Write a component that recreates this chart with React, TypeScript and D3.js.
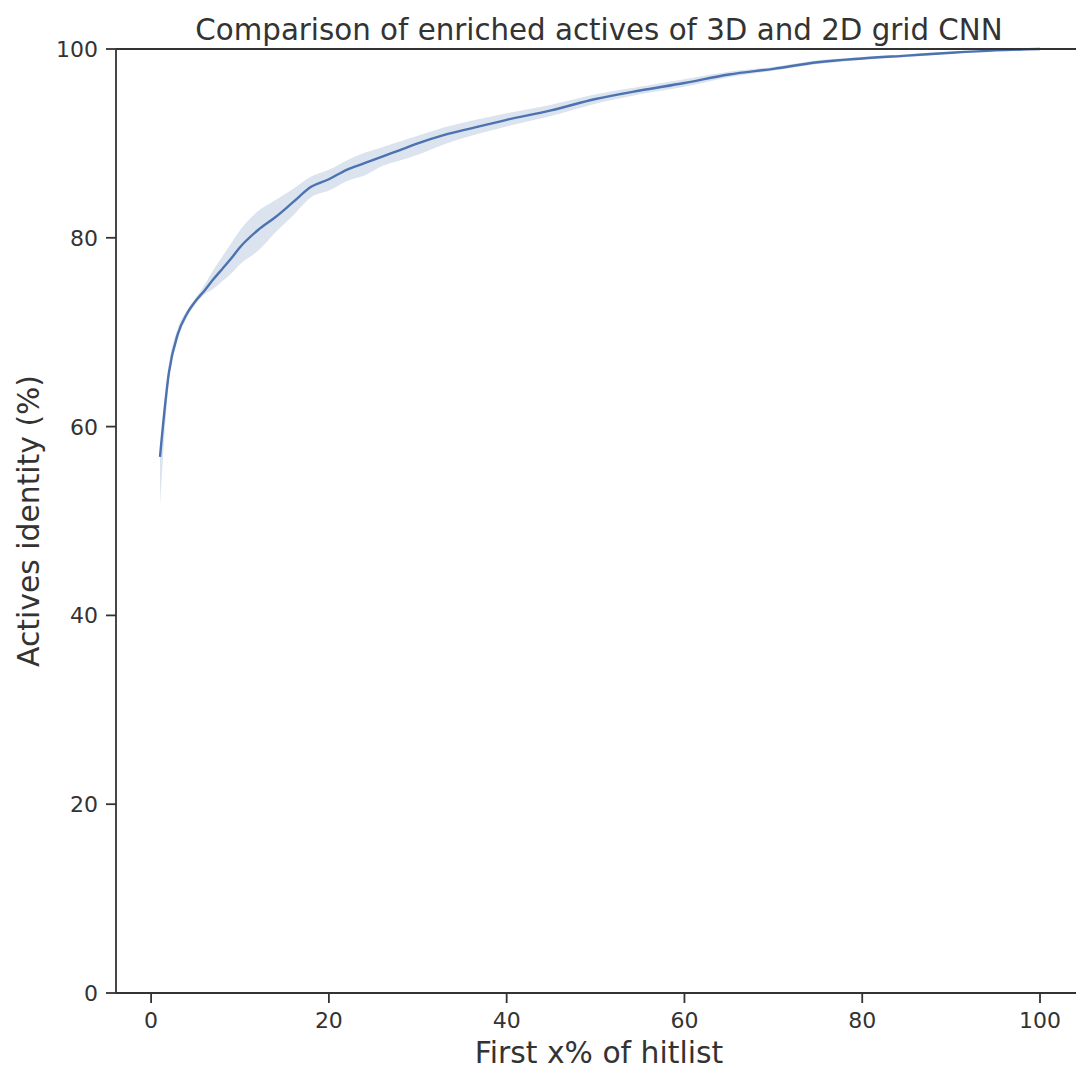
import React from "react";
import * as d3 from "d3";

const xs = [1, 2, 3, 4, 5, 6, 7, 8, 9, 10, 12, 14, 16, 18, 20, 22, 24, 26, 28, 30, 33, 36, 40, 45, 50, 55, 60, 65, 70, 75, 80, 85, 90, 95, 100];
const meanVals = [56.8, 65.7, 69.8, 71.9, 73.3, 74.4, 75.6, 76.7, 77.8, 79.0, 80.8, 82.2, 83.8, 85.4, 86.2, 87.2, 87.9, 88.6, 89.3, 90.0, 90.9, 91.6, 92.5, 93.5, 94.7, 95.6, 96.4, 97.3, 97.9, 98.6, 99.0, 99.3, 99.6, 99.85, 100];
const lowerVals = [51.6, 64.7, 69.2, 71.5, 73.0, 74.0, 74.6, 75.4, 76.2, 77.2, 78.6, 80.6, 82.4, 84.3, 85.0, 86.0, 86.6, 87.6, 88.2, 88.8, 89.9, 90.8, 91.8, 92.9, 94.2, 95.2, 96.0, 97.0, 97.7, 98.4, 98.85, 99.15, 99.5, 99.8, 100];
const upperVals = [57.4, 66.6, 70.4, 72.3, 73.6, 75.0, 76.6, 78.0, 79.4, 80.8, 82.8, 84.0, 85.2, 86.5, 87.2, 88.2, 89.0, 89.6, 90.2, 90.8, 91.7, 92.4, 93.2, 94.1, 95.2, 96.0, 96.8, 97.6, 98.1, 98.8, 99.15, 99.45, 99.7, 99.9, 100];
const xTicks = [0, 20, 40, 60, 80, 100];
const yTicks = [0, 20, 40, 60, 80, 100];

const W = 1076, H = 1069;
const left = 116, right = 1084, top = 49, bottom = 993;
const ink = "#333333";
const blue = "#4c72b0";
const font = "DejaVu Sans, sans-serif";

export default function App() {
  const x = d3.scaleLinear().domain([-3.95, 104.95]).range([left, right]);
  const y = d3.scaleLinear().domain([0, 100]).range([bottom, top]);
  const pts = xs.map((v, i) => ({ x: v, m: meanVals[i], lo: lowerVals[i], hi: upperVals[i] }));
  const line = d3.line<any>().x(d => x(d.x)).y(d => y(d.m)).curve(d3.curveMonotoneX);
  const area = d3.area<any>().x(d => x(d.x)).y0(d => y(d.lo)).y1(d => y(d.hi)).curve(d3.curveMonotoneX);
  return (
    <div style={{ position: "absolute", left: 0, top: 0 }}>
      <svg width={W} height={H} style={{ display: "block", background: "#fff" }}>
        <path d={area(pts) || ""} fill={blue} fillOpacity={0.2} stroke="none" />
        <path d={line(pts) || ""} fill="none" stroke={blue} strokeWidth={2.4} />
        <line x1={left} x2={left} y1={top} y2={bottom} stroke={ink} strokeWidth={1.8} />
        <line x1={left} x2={right} y1={bottom} y2={bottom} stroke={ink} strokeWidth={1.8} />
        <line x1={left} x2={right} y1={top} y2={top} stroke={ink} strokeWidth={1.8} />
        {xTicks.map(t => (
          <g key={"x" + t}>
            <line x1={x(t)} x2={x(t)} y1={bottom} y2={bottom + 10} stroke={ink} strokeWidth={1.8} />
            <text x={x(t)} y={bottom + 35} textAnchor="middle" fontFamily={font} fontSize={22} fill={ink}>{t}</text>
          </g>
        ))}
        {yTicks.map(t => (
          <g key={"y" + t}>
            <line x1={left - 10} x2={left} y1={y(t)} y2={y(t)} stroke={ink} strokeWidth={1.8} />
            <text x={left - 18} y={y(t) + 8} textAnchor="end" fontFamily={font} fontSize={22} fill={ink}>{t}</text>
          </g>
        ))}
        <text x={599} y={39.5} textAnchor="middle" fontFamily={font} fontSize={29.3} fill={ink}>Comparison of enriched actives of 3D and 2D grid CNN</text>
        <text x={599} y={1063} textAnchor="middle" fontFamily={font} fontSize={29.8} fill={ink}>First x% of hitlist</text>
        <text transform={`translate(39,${(top + bottom) / 2}) rotate(-90)`} textAnchor="middle" fontFamily={font} fontSize={29.8} fill={ink}>Actives identity (%)</text>
      </svg>
    </div>
  );
}
